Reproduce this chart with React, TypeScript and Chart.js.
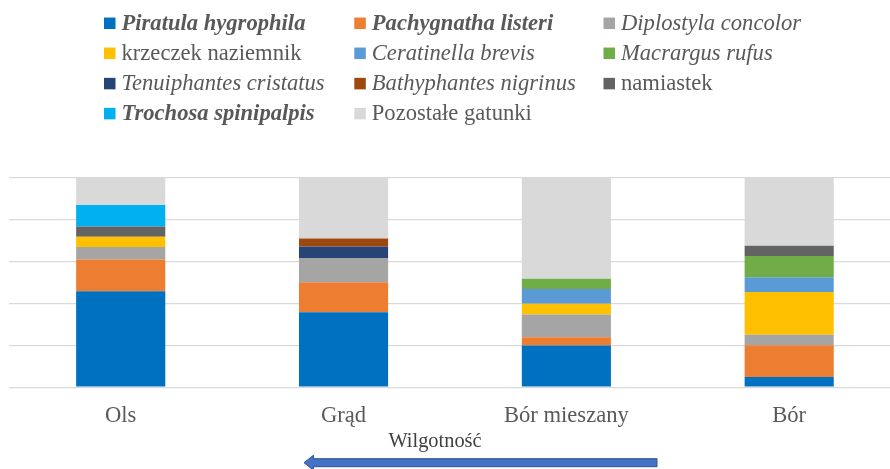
import React, { useEffect, useRef } from "react";
import { Chart, registerables } from "chart.js";

Chart.register(...registerables);

const categories = ["Ols", "Grąd", "Bór mieszany", "Bór"];

const piratula = [45.7, 35.7, 19.8, 4.8];
const pachygnatha = [15.1, 14.3, 4.0, 15.2];
const diplostyla = [6.0, 11.6, 10.8, 5.0];
const krzeczek = [4.9, 0, 5.2, 20.4];
const ceratinella = [0, 0, 7.0, 7.0];
const macrargus = [0, 0, 4.9, 10.1];
const tenuiphantes = [0, 5.4, 0, 0];
const bathyphantes = [0, 3.9, 0, 0];
const namiastek = [4.8, 0, 0, 4.9];
const trochosa = [10.3, 0, 0, 0];
const pozostale = [13.2, 29.1, 48.3, 32.6];

const seriesLabels = [
  "Piratula hygrophila",
  "Pachygnatha listeri",
  "Diplostyla concolor",
  "krzeczek naziemnik",
  "Ceratinella brevis",
  "Macrargus rufus",
  "Tenuiphantes cristatus",
  "Bathyphantes nigrinus",
  "namiastek",
  "Trochosa spinipalpis",
  "Pozostałe gatunki",
];
const seriesValues = [
  piratula, pachygnatha, diplostyla, krzeczek, ceratinella, macrargus,
  tenuiphantes, bathyphantes, namiastek, trochosa, pozostale,
];
const seriesColors = [
  "#0070C0", "#ED7D31", "#A5A5A5", "#FFC000", "#5B9BD5", "#70AD47",
  "#264478", "#9E480E", "#636363", "#00B0F0", "#D9D9D9",
];
const legendStyles = [
  "italic bold", "italic bold", "italic", "normal", "italic", "italic",
  "italic", "italic", "normal", "italic bold", "normal",
];
const axisTitle = "Wilgotność";

const SERIF = "'Liberation Serif', 'Times New Roman', 'DejaVu Serif', serif";
const TEXT = "#595959";

const overlayPlugin = {
  id: "overlay",
  afterDraw(chart: any) {
    const ctx = chart.ctx;
    ctx.save();
    const boxX = [104, 354.3, 603.5];
    const rowY = [23.3, 53.3, 83.6, 113.6];
    chart.data.datasets.forEach((ds: any, i: number) => {
      const col = i % 3;
      const row = Math.floor(i / 3);
      const bx = boxX[col];
      const cy = rowY[row];
      ctx.fillStyle = ds.backgroundColor;
      ctx.fillRect(bx, cy - 5.75, 11.5, 11.5);
      ctx.font = `${legendStyles[i]} 22.6px ${SERIF}`;
      ctx.fillStyle = TEXT;
      ctx.textAlign = "left";
      ctx.textBaseline = "alphabetic";
      ctx.fillText(ds.label, bx + 17.5, cy + 6.7);
    });
    ctx.font = `20.4px ${SERIF}`;
    ctx.fillStyle = "#404040";
    ctx.textAlign = "center";
    ctx.textBaseline = "alphabetic";
    ctx.fillText(axisTitle, 435, 447.3);
    ctx.beginPath();
    ctx.moveTo(304, 462.7);
    ctx.lineTo(313.5, 455.2);
    ctx.lineTo(313.5, 458.7);
    ctx.lineTo(657, 458.7);
    ctx.lineTo(657, 466.7);
    ctx.lineTo(313.5, 466.7);
    ctx.lineTo(313.5, 470.2);
    ctx.closePath();
    ctx.fillStyle = "#4472C4";
    ctx.fill();
    ctx.strokeStyle = "#2F528F";
    ctx.lineWidth = 1;
    ctx.stroke();
    ctx.restore();
  },
};

export default function App() {
  const ref = useRef<HTMLCanvasElement | null>(null);
  useEffect(() => {
    if (!ref.current) return;
    const chart = new Chart(ref.current, {
      type: "bar",
      data: {
        labels: categories,
        datasets: seriesLabels.map((label, i) => ({
          label,
          data: seriesValues[i],
          backgroundColor: seriesColors[i],
          borderWidth: 0,
          barPercentage: 0.4,
          categoryPercentage: 1,
        })),
      },
      options: {
        responsive: false,
        animation: false,
        layout: { padding: { top: 177.3, left: 9.3, right: 9.4, bottom: 24.7 } },
        plugins: { legend: { display: false }, tooltip: { enabled: false } },
        scales: {
          x: {
            stacked: true,
            grid: { display: false, drawTicks: false },
            border: { display: false },
            ticks: {
              color: TEXT,
              padding: 15,
              font: { family: SERIF, size: 22.6 },
            },
          },
          y: {
            stacked: true,
            min: 0,
            max: 100,
            grid: { color: "#D9D9D9", lineWidth: 1.3, drawTicks: false },
            border: { display: false },
            ticks: { display: false, stepSize: 20 },
          },
        },
      },
      plugins: [overlayPlugin],
    });
    let alive = true;
    const fonts: any = (document as any).fonts;
    if (fonts && fonts.load) {
      Promise.all([
        fonts.load("22px 'Liberation Serif'"),
        fonts.load("italic 22px 'Liberation Serif'"),
        fonts.load("italic bold 22px 'Liberation Serif'"),
      ]).then(() => {
        if (alive) chart.update();
      }).catch(() => {});
    }
    return () => {
      alive = false;
      chart.destroy();
    };
  }, []);
  return (
    <div
      style={{
        position: "fixed",
        left: 0,
        top: 0,
        width: 890,
        height: 469,
        overflow: "hidden",
        background: "#fff",
        fontFamily: SERIF,
      }}
    >
      <canvas ref={ref} width={910} height={469} style={{ width: 910, height: 469, display: "block" }} />
    </div>
  );
}
